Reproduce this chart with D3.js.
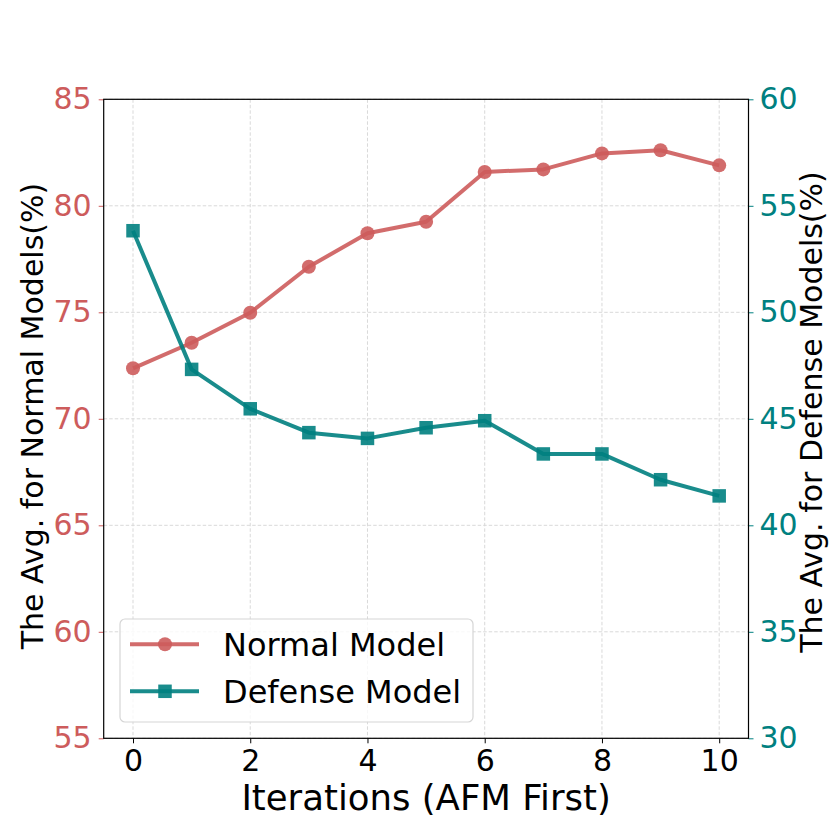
<!DOCTYPE html>
<html>
<head>
<meta charset="utf-8">
<script src="https://cdn.jsdelivr.net/npm/d3@7"></script>
<style>
  html, body { margin: 0; padding: 0; background: #fff; }
  svg { display: block; font-family: "DejaVu Sans", sans-serif; }
</style>
</head>
<body>
<svg id="chart"></svg>
<script>
// data
const iterations = [0, 1, 2, 3, 4, 5, 6, 7, 8, 9, 10];
const normalAvg = [72.37, 73.57, 74.98, 77.14, 78.71, 79.25, 81.59, 81.71, 82.46, 82.61, 81.9];
const defenseAvg = [53.83, 47.32, 45.47, 44.35, 44.08, 44.58, 44.91, 43.35, 43.35, 42.14, 41.38];
const xTicks = [0, 2, 4, 6, 8, 10];
const leftTicks = [55, 60, 65, 70, 75, 80, 85];
const rightTicks = [30, 35, 40, 45, 50, 55, 60];
const seriesNames = ["Normal Model", "Defense Model"];

const width = 830;
const height = 830;
const margin = { top: 99.3, right: 81.5, bottom: 91.7, left: 103.7 };
const red = "#cd5c5c";
const teal = "#008080";

const svg = d3.select("#chart").attr("width", width).attr("height", height);

const xScale = d3.scaleLinear().domain([-0.5, 10.5]).range([margin.left, width - margin.right]);
const yLeft = d3.scaleLinear().domain([55, 85]).range([height - margin.bottom, margin.top]);
const yRight = d3.scaleLinear().domain([30, 60]).range([height - margin.bottom, margin.top]);

// grid
const grid = svg.append("g").attr("stroke", "#d9d9d9").attr("stroke-width", 1).attr("stroke-dasharray", "3.5,2");
grid.selectAll(".vg").data(xTicks).enter().append("line")
  .attr("x1", (d) => xScale(d)).attr("x2", (d) => xScale(d))
  .attr("y1", margin.top).attr("y2", height - margin.bottom);
grid.selectAll(".hg").data(leftTicks).enter().append("line")
  .attr("x1", margin.left).attr("x2", width - margin.right)
  .attr("y1", (d) => yLeft(d)).attr("y2", (d) => yLeft(d));

// axes
const xAxis = svg.append("g")
  .attr("transform", `translate(0,${height - margin.bottom})`)
  .call(d3.axisBottom(xScale).tickValues(xTicks).tickSize(5).tickPadding(6));
xAxis.selectAll("text").attr("font-size", 30).attr("fill", "#000").attr("font-family", "DejaVu Sans");

const leftAxis = svg.append("g")
  .attr("transform", `translate(${margin.left},0)`)
  .call(d3.axisLeft(yLeft).tickValues(leftTicks).tickSize(5).tickPadding(7));
leftAxis.selectAll("text").attr("font-size", 30).attr("fill", red).attr("font-family", "DejaVu Sans");
leftAxis.selectAll(".tick line").attr("stroke", red);

const rightAxis = svg.append("g")
  .attr("transform", `translate(${width - margin.right},0)`)
  .call(d3.axisRight(yRight).tickValues(rightTicks).tickSize(5).tickPadding(6));
rightAxis.selectAll("text").attr("font-size", 30).attr("fill", teal).attr("font-family", "DejaVu Sans");
rightAxis.selectAll(".tick line").attr("stroke", teal);

[xAxis, leftAxis, rightAxis].forEach((a) => a.select(".domain").remove());

// frame
svg.append("rect")
  .attr("x", margin.left).attr("y", margin.top)
  .attr("width", width - margin.left - margin.right)
  .attr("height", height - margin.top - margin.bottom)
  .attr("fill", "none").attr("stroke", "#000").attr("stroke-width", 1.2);

// lines
const normalLine = d3.line().x((d, i) => xScale(iterations[i])).y((d) => yLeft(d));
const defenseLine = d3.line().x((d, i) => xScale(iterations[i])).y((d) => yRight(d));

svg.append("path").datum(normalAvg)
  .attr("fill", "none").attr("stroke", red).attr("stroke-opacity", 0.9)
  .attr("stroke-width", 4).attr("stroke-linejoin", "round").attr("d", normalLine);
svg.selectAll(".dot").data(normalAvg).enter().append("circle")
  .attr("class", "dot")
  .attr("cx", (d, i) => xScale(iterations[i])).attr("cy", (d) => yLeft(d))
  .attr("r", 7).attr("fill", red).attr("fill-opacity", 0.9);

svg.append("path").datum(defenseAvg)
  .attr("fill", "none").attr("stroke", teal).attr("stroke-opacity", 0.9)
  .attr("stroke-width", 4).attr("stroke-linejoin", "round").attr("d", defenseLine);
svg.selectAll(".sq").data(defenseAvg).enter().append("rect")
  .attr("class", "sq")
  .attr("x", (d, i) => xScale(iterations[i]) - 6.75).attr("y", (d) => yRight(d) - 6.75)
  .attr("width", 13.5).attr("height", 13.5).attr("fill", teal).attr("fill-opacity", 0.9);

// axis labels
svg.append("text")
  .attr("x", (margin.left + width - margin.right) / 2).attr("y", 810)
  .attr("text-anchor", "middle").attr("font-size", 35.5)
  .text("Iterations (AFM First)");

svg.append("text")
  .attr("transform", "translate(43,416) rotate(-90)")
  .attr("text-anchor", "middle").attr("font-size", 30)
  .text("The Avg. for Normal Models(%)");
svg.append("text")
  .attr("transform", "translate(822,412) rotate(-90)")
  .attr("text-anchor", "middle").attr("font-size", 30)
  .text("The Avg. for Defense Models(%)");

// legend
const legend = svg.append("g").attr("transform", "translate(120,619)");
legend.append("rect")
  .attr("width", 353).attr("height", 103).attr("rx", 5)
  .attr("fill", "#fff").attr("fill-opacity", 0.8)
  .attr("stroke", "#d6d6d6").attr("stroke-width", 1.2);

const rows = legend.selectAll(".row").data(seriesNames).enter().append("g")
  .attr("transform", (d, i) => `translate(0,${25.3 + i * 47})`);
rows.append("line")
  .attr("x1", 10).attr("x2", 79)
  .attr("stroke", (d, i) => (i === 0 ? red : teal)).attr("stroke-opacity", 0.9).attr("stroke-width", 4);
rows.each(function (d, i) {
  const g = d3.select(this);
  if (i === 0) {
    g.append("circle").attr("cx", 45).attr("r", 7).attr("fill", red).attr("fill-opacity", 0.9);
  } else {
    g.append("rect").attr("x", 38.25).attr("y", -6.75).attr("width", 13.5).attr("height", 13.5)
      .attr("fill", teal).attr("fill-opacity", 0.9);
  }
});
rows.append("text")
  .attr("x", 103).attr("y", 11.8).attr("font-size", 32)
  .text((d) => d);
</script>
</body>
</html>
